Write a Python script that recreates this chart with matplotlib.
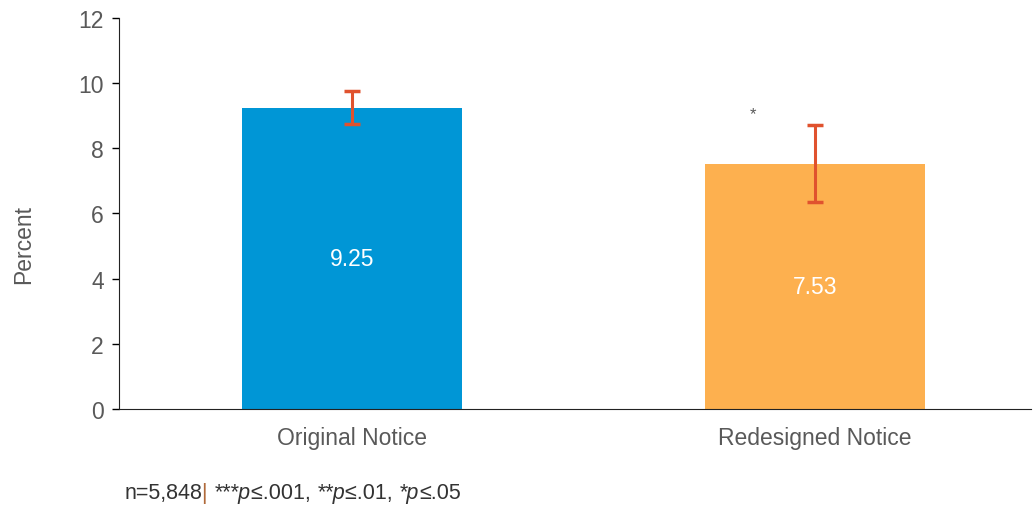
import matplotlib
matplotlib.use("Agg")
import matplotlib.pyplot as plt

categories = ["Original Notice", "Redesigned Notice"]
values = [9.25, 7.53]
err_low = [0.52, 1.18]
err_high = [0.52, 1.18]
value_labels = ["9.25", "7.53"]
sig_marks = ["", "*"]
colors = ["#0096D6", "#FDB04F"]
yticks = [0, 2, 4, 6, 8, 10, 12]

plt.rcParams['font.family'] = ['Liberation Sans', 'DejaVu Sans']

grey = "#595959"
fig = plt.figure(figsize=(10.36, 5.10), dpi=100)
ax = fig.add_axes([0.115, 0.196, 0.88, 0.767])

x = list(range(len(categories)))
ax.bar(x, values, width=0.475, color=colors, zorder=2)
ax.errorbar(x, values, yerr=[err_low, err_high], fmt='none', ecolor="#E0522E",
            elinewidth=2.2, capsize=6, capthick=2.5, zorder=3)

for xi, v, lab in zip(x, values, value_labels):
    ax.text(xi, v / 2, lab, ha='center', va='center', color='white', fontsize=16.5)
for xi, v, s in zip(x, values, sig_marks):
    if s:
        ax.text(xi - 0.135, 9.05, s, ha='center', va='center', color=grey, fontsize=12)

ax.set_xlim(-0.503, 1.466)
ax.set_ylim(0, 12)
ax.set_yticks(yticks)
ax.set_xticks(x)
ax.set_xticklabels(categories)
ax.tick_params(axis='x', length=0, pad=12, labelsize=16.5, labelcolor=grey)
ax.tick_params(axis='y', length=5, width=1, direction='out', labelsize=16.5, labelcolor=grey, pad=6)
for sp in ['top', 'right']:
    ax.spines[sp].set_visible(False)
ax.spines['left'].set_color('#222222')
ax.spines['bottom'].set_color('#222222')
ax.set_ylabel("Percent", fontsize=16.5, color=grey, va='center')
ax.yaxis.set_label_coords(-0.105, 0.422)

# footnote built from pieces (italic significance markers)
pieces = [("n=5,848", "normal", "#333333"), ("| ", "normal", "#B06A3A"),
          ("***p", "italic", "#333333"), ("≤.001, ", "normal", "#333333"),
          ("**p", "italic", "#333333"), ("≤.01, ", "normal", "#333333"),
          ("*p", "italic", "#333333"), ("≤.05", "normal", "#333333")]
fig.canvas.draw()
renderer = fig.canvas.get_renderer()
xpix = 0.12 * fig.bbox.width
for txt, style, col in pieces:
    t = fig.text(xpix / fig.bbox.width, 0.033, txt, fontsize=15.5, style=style,
                 color=col, ha='left', va='center')
    bb = t.get_window_extent(renderer=renderer)
    xpix += bb.width

fig.savefig("out.png", dpi=100)
